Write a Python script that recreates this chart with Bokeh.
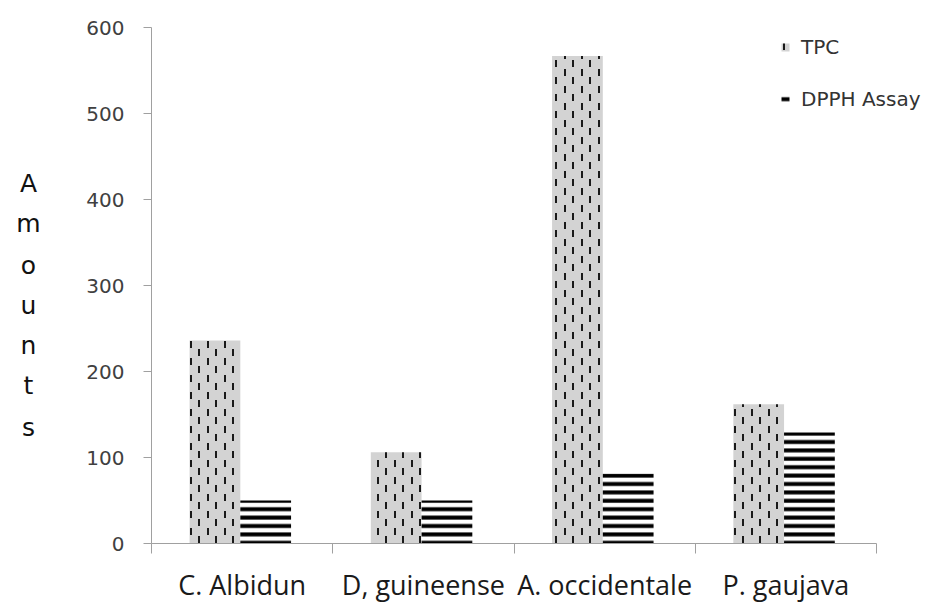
import base64
from bokeh.plotting import figure
from bokeh.models import (Range1d, FixedTicker, Legend, LegendItem, Label,
                          ImageURLTexture)
from bokeh.embed import file_html
from bokeh.resources import INLINE

categories = ["C. Albidun", "D, guineense", "A. occidentale", "P. gaujava"]
tpc = [236, 106, 567, 162]
dpph = [50, 50, 81, 129]
y_ticks = [0, 100, 200, 300, 400, 500, 600]
series_names = ["TPC", "DPPH Assay"]
y_title = "Amounts"

n = len(categories)
idx = list(range(n))

W, H = 938, 603
FL, FR, FT, FB = 151, 876, 27, 543
px_x = (FR - FL) / n
px_y = (FB - FT) / 600.0

p = figure(width=W, height=H, output_backend="svg", toolbar_location=None,
           x_range=Range1d(-FL / px_x, (W - FL) / px_x),
           y_range=Range1d(-(H - FB) / px_y, 600 + FT / px_y),
           min_border=0, min_border_left=0, min_border_right=0,
           min_border_top=0, min_border_bottom=0)
p.outline_line_color = None
p.xgrid.visible = False
p.ygrid.visible = False
p.background_fill_color = "white"
p.border_fill_color = "white"

# staggered short vertical dashes (TPC hatch)
svg = ('<svg xmlns="http://www.w3.org/2000/svg" width="17" height="17">'
       '<rect x="3" y="1" width="2" height="7" fill="#1a1a1a"/>'
       '<rect x="11" y="9" width="2" height="7" fill="#1a1a1a"/></svg>')
tpc_tex = ImageURLTexture(url="data:image/svg+xml;base64," + base64.b64encode(svg.encode()).decode())

bw = 0.28
x_tpc = [i + 0.35 for i in idx]
x_dpph = [i + 0.63 for i in idx]

r1 = p.vbar(x=x_tpc, top=tpc, bottom=0, width=bw, fill_color="#d3d3d3",
            line_color=None, hatch_pattern=["tpc"] * n, hatch_extra={"tpc": tpc_tex},
            hatch_scale=17, hatch_weight=2, hatch_color="#1e1e1e")
r2 = p.vbar(x=x_dpph, top=dpph, bottom=0, width=bw, fill_color="white",
            line_color=None, hatch_pattern="horizontal_line", hatch_scale=8.4,
            hatch_weight=4, hatch_color="black")

axis_color = "#a0a0a0"
p.yaxis.fixed_location = 0
p.yaxis.bounds = (0, 600)
p.yaxis.ticker = FixedTicker(ticks=y_ticks)
p.yaxis.axis_line_color = axis_color
p.yaxis.major_tick_line_color = axis_color
p.yaxis.major_tick_out = 8
p.yaxis.major_tick_in = 0
p.yaxis.minor_tick_line_color = None
p.yaxis.major_label_text_font = "DejaVu Sans"
p.yaxis.major_label_text_font_size = "20px"
p.yaxis.major_label_text_color = "#404040"
p.yaxis.major_label_standoff = 19

p.xaxis.fixed_location = 0
p.xaxis.bounds = (0, n)
p.xaxis.ticker = FixedTicker(ticks=[i + 0.5 for i in idx], minor_ticks=list(range(n + 1)))
p.xaxis.major_label_overrides = {i + 0.5: c for i, c in zip(idx, categories)}
p.xaxis.axis_line_color = axis_color
p.xaxis.major_tick_line_color = None
p.xaxis.major_tick_out = 10
p.xaxis.major_tick_in = 0
p.xaxis.minor_tick_line_color = axis_color
p.xaxis.minor_tick_out = 10
p.xaxis.minor_tick_in = 0
p.xaxis.major_label_text_font = "Open Sans"
p.xaxis.major_label_text_font_size = "27px"
p.xaxis.major_label_text_color = "#1a1a1a"
p.xaxis.major_label_standoff = 12

legend = Legend(items=[LegendItem(label=series_names[0], renderers=[r1], index=0),
                       LegendItem(label=series_names[1], renderers=[r2])],
                location=(780, H - 111), orientation="vertical",
                border_line_color=None, background_fill_alpha=0,
                padding=0, margin=0, spacing=28,
                glyph_width=10, glyph_height=10, label_height=20,
                label_standoff=11,
                label_text_font="DejaVu Sans", label_text_font_size="20px",
                label_text_color="#333333")
p.add_layout(legend, "center")

baselines = [183, 223, 265, 305, 345, 385, 427]
for ch, b in zip(y_title, baselines):
    p.add_layout(Label(x=28, y=H - b, x_units="screen", y_units="screen",
                       text=ch, text_align="center", text_baseline="alphabetic",
                       text_font="DejaVu Sans", text_font_size="25px",
                       text_color="#111111"))

open("out.html", "w").write(file_html(p, INLINE))
